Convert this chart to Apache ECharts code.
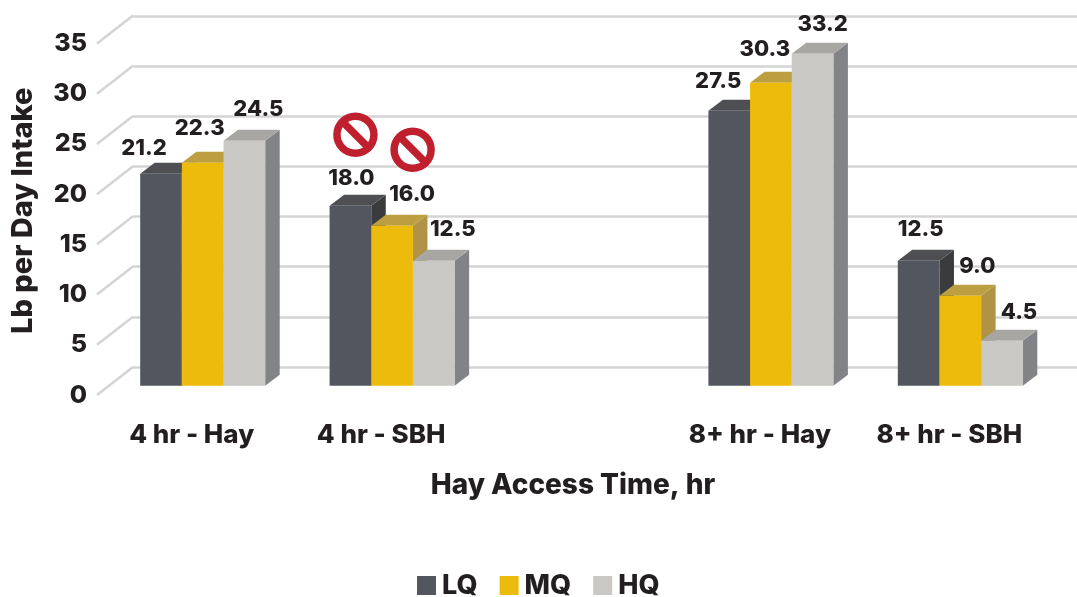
<!DOCTYPE html>
<html><head><meta charset="utf-8">
<style>html,body{margin:0;padding:0;background:#fff}#c{width:1077px;height:597px}</style>
<script src="https://cdn.jsdelivr.net/npm/echarts@6/dist/echarts.min.js"></script>
</head><body><div id="c"></div>
<script>
const categories = ["4 hr - Hay", "4 hr - SBH", "", "8+ hr - Hay", "8+ hr - SBH"];
const seriesNames = ["LQ", "MQ", "HQ"];
const lq = [21.2, 18.0, null, 27.5, 12.5];
const mq = [22.3, 16.0, null, 30.3, 9.0];
const hq = [24.5, 12.5, null, 33.2, 4.5];
const yTicks = [0, 5, 10, 15, 20, 25, 30, 35];
// categories whose intake is flagged with a prohibition sign, per quality
const flaggedLq = [false, true, false, false, false];
const flaggedMq = [false, true, false, false, false];
const flaggedHq = [false, false, false, false, false];

// styling and layout
const INK = "#231f20", FONT = "Inter";
const faces = [
  {front: "#52565e", top: "#4e4f53", side: "#3a3b3d"},
  {front: "#edbb0b", top: "#bb9f41", side: "#b09344"},
  {front: "#c9c8c4", top: "#a7a6a3", side: "#828386"}
];
const DX = 14.5, DY = -11;
const labelNudge = [
  [[-17, -25], [1, -27], null, [-11, -29], [2, -31]],
  [[-3, -34], [20, -31], null, [-6, -33], [17, -29]],
  [[14, -31], [19, -31], null, [10, -29], [17, -28]]
];
const flagNudge = [[5, -71], [20.5, -76], null];

function bar(si, values, flags) {
  return {
    name: seriesNames[si], type: "custom", xAxisIndex: 0, yAxisIndex: 0, z: 5,
    itemStyle: {color: faces[si].front},
    data: values.map((v, i) => [i, v]),
    renderItem(params, api) {
      const i = api.value(0), v = api.value(1);
      if (v == null || isNaN(v)) return;
      const band = api.size([1, 0])[0], w = band * 0.22;
      const c = api.coord([i, v]), b = api.coord([i, 0]);
      const x0 = c[0] + (si - 1.5) * w, x1 = x0 + w, yt = c[1], yb = b[1];
      const poly = (pts, fill) => ({type: "polygon", shape: {points: pts}, style: {fill}});
      const kids = [
        poly([[x1, yt], [x1 + DX, yt + DY], [x1 + DX, yb + DY], [x1, yb]], faces[si].side),
        poly([[x0, yt], [x0 + DX, yt + DY], [x1 + DX, yt + DY], [x1, yt]], faces[si].top),
        {type: "rect", shape: {x: x0, y: yt, width: w, height: yb - yt}, style: {fill: faces[si].front}}
      ];
      const n = labelNudge[si][i];
      kids.push({type: "text", z2: 20, style: {
        text: v.toFixed(1), x: x0 + w / 2 + n[0], y: yt + n[1], align: "center", verticalAlign: "middle",
        font: "800 22px " + FONT, fill: INK}});
      if (flags[i] && flagNudge[si]) {
        const cx = x0 + w / 2 + flagNudge[si][0], cy = yt + flagNudge[si][1];
        kids.push({type: "circle", z2: 20, shape: {cx, cy, r: 18.5},
          style: {fill: "#fff", stroke: "#c01f2e", lineWidth: 7.5}});
        kids.push({type: "line", z2: 21, shape: {x1: cx - 13, y1: cy - 13, x2: cx + 13, y2: cy + 13},
          style: {stroke: "#c01f2e", lineWidth: 7.5}});
      }
      return {type: "group", children: kids};
    }
  };
}

const chart = echarts.init(document.getElementById("c"), null, {renderer: "canvas"});
chart.setOption({
  animation: false,
  textStyle: {fontFamily: FONT},
  grid: [
    {left: 108, width: 947, top: 35.7, height: 350},
    {left: 97, width: 947, top: 43.5, height: 351.5},
    {left: 133, width: 944, top: 16, height: 351}
  ],
  xAxis: [
    {type: "category", gridIndex: 0, data: categories, axisLine: {show: false}, axisTick: {show: false}, axisLabel: {show: false}},
    {type: "category", gridIndex: 1, data: categories, axisLine: {show: false}, axisTick: {show: false},
      axisLabel: {color: INK, fontFamily: FONT, fontWeight: 800, fontSize: 26, margin: 27, interval: 0},
      name: "Hay Access Time, hr", nameLocation: "middle", nameGap: 77,
      nameTextStyle: {color: INK, fontFamily: FONT, fontWeight: 800, fontSize: 28, padding: [0, 0, 0, 5]}},
    {type: "category", gridIndex: 2, data: categories, axisLine: {show: false}, axisTick: {show: false}, axisLabel: {show: false}}
  ],
  yAxis: [
    {type: "value", gridIndex: 0, min: 0, max: 35, interval: 5, axisLine: {show: false}, axisTick: {show: false},
      axisLabel: {show: false}, splitLine: {show: false},
      name: "Lb per Day Intake", nameLocation: "middle", nameGap: 70,
      nameTextStyle: {color: INK, fontFamily: FONT, fontWeight: 800, fontSize: 29}},
    {type: "value", gridIndex: 1, min: 0, max: 35, interval: 5, axisLine: {show: false}, axisTick: {show: false},
      axisLabel: {color: INK, fontFamily: FONT, fontWeight: 800, fontSize: 25, margin: 10}, splitLine: {show: false}},
    {type: "value", gridIndex: 2, min: 0, max: 35, interval: 5, axisLine: {show: false}, axisTick: {show: false},
      axisLabel: {show: false}, splitLine: {show: true, lineStyle: {color: "#d4d4d4", width: 2.5}}}
  ],
  legend: {
    left: 417, top: 572, padding: 0, itemWidth: 19, itemHeight: 19, itemGap: 22, icon: "rect",
    data: seriesNames,
    textStyle: {color: INK, fontFamily: FONT, fontWeight: 800, fontSize: 27, padding: [0, 0, 0, 1]}
  },
  series: [
    {
      type: "custom", xAxisIndex: 1, yAxisIndex: 1, z: 1, silent: true,
      data: yTicks.map(t => [0, t]),
      renderItem(params, api) {
        const y = api.coord([0, api.value(1)])[1], x = params.coordSys.x;
        return {type: "line", shape: {x1: x, y1: y, x2: x + 36, y2: y - 28},
          style: {stroke: "#d4d4d4", lineWidth: 2.5}};
      }
    },
    bar(0, lq, flaggedLq),
    bar(1, mq, flaggedMq),
    bar(2, hq, flaggedHq)
  ]
});
</script></body></html>
